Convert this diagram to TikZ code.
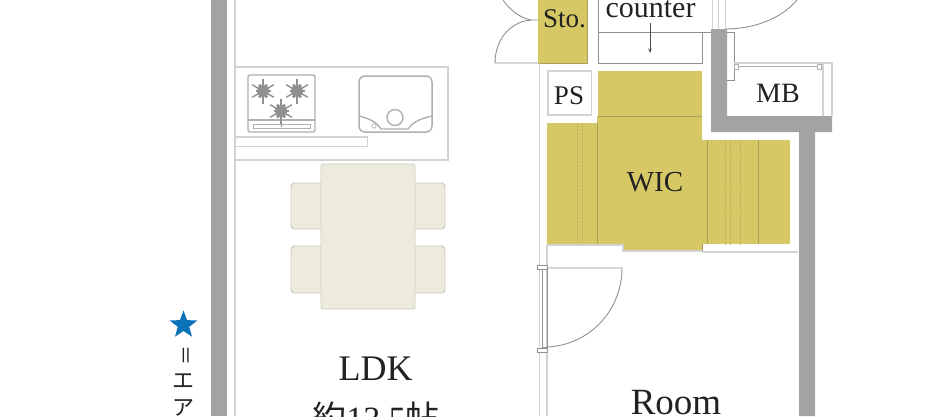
\documentclass[tikz,border=0pt]{standalone}
\usepackage{fontspec}
\setmainfont{Liberation Serif}
\newfontfamily\cjk{Noto Sans CJK JP}
\definecolor{wallg}{HTML}{A3A3A3}
\definecolor{thing}{HTML}{D2D2D2}
\definecolor{midg}{HTML}{909090}
\definecolor{ylw}{HTML}{D5C865}
\definecolor{ylwl}{HTML}{A99F5E}
\definecolor{tbl}{HTML}{EDEBDD}
\definecolor{tbll}{HTML}{CFCEC2}
\definecolor{fixt}{HTML}{B0B0B0}
\definecolor{txt}{HTML}{222222}
\definecolor{starb}{HTML}{0B72BA}
\usetikzlibrary{arrows.meta,shapes.geometric,calc}
\tikzset{
 wall/.style={fill=wallg,draw=none},
 thinw/.style={draw=thing,line width=1.5pt},
 doorl/.style={draw=midg,line width=0.9pt},
 ylwb/.style={fill=ylw,draw=none},
 ylwline/.style={draw=ylwl,line width=0.6pt},
 ylwdash/.style={draw=ylwl!50!ylw,line width=0.4pt,densely dotted},
 furn/.style={fill=tbl,draw=tbll,line width=0.8pt,rounded corners=2pt},
 fixture/.style={draw=fixt,line width=1.4pt},
 lab/.style={inner sep=0pt,text=txt,anchor=base},
}
\newcommand{\flake}[1]{%
 \foreach \a in {0,60,120}{\draw[draw=midg,line width=1.4pt] ($#1+(\a+90:12.5)$) -- ($#1+(\a+270:12.5)$);}
 \foreach \a in {30,90,150}{\draw[draw=midg,line width=2.6pt] ($#1+(\a+90:7.5)$) -- ($#1+(\a+270:7.5)$);}
 \fill[midg] #1 circle (6);
}
\begin{document}
\begin{tikzpicture}[x=1pt,y=-1pt]
\useasboundingbox (0,0) rectangle (936,416);
\clip (0,0) rectangle (936,416);
\fill[white] (0,0) rectangle (936,416);

% outer walls
\fill[wall] (211,0) rectangle (227,416);
\draw[thinw] (235,0) -- (235,416);
\draw[thinw] (234.5,67) -- (448,67) -- (448,160) -- (234.5,160);
\draw[thinw] (234.5,137) -- (367.5,137) -- (367.5,146.5) -- (234.5,146.5);

% hob
\draw[fixture,rounded corners=2pt] (248,75) rectangle (315,132);
\draw[fixture] (248,120) -- (315,120);
\draw[fixture,line width=0.7pt] (253,124) rectangle (310,128);
\flake{(263,91)}
\flake{(297,91)}
\flake{(281,111)}
\draw[draw=midg,line width=0.8pt] (281,111) -- (281,127);
% sink
\draw[fixture,line width=1.5pt,rounded corners=6pt] (359,76) rectangle (432,132);
\draw[fixture] (359,116) .. controls (372,119) and (378,124) .. (381,129) -- (408,129) .. controls (411,124) and (418,119) .. (432,116);
\draw[fixture] (395,117.5) circle (8);
\draw[fixture,line width=0.7pt] (374,126) circle (2.2);

% table and chairs
\draw[furn] (321,183) -- (293,183) -- (291,185) -- (291,227) -- (293,229) -- (321,229);
\draw[furn] (321,246) -- (293,246) -- (291,248) -- (291,291) -- (293,293) -- (321,293);
\draw[furn] (415,183) -- (443,183) -- (445,185) -- (445,227) -- (443,229) -- (415,229);
\draw[furn] (415,246) -- (443,246) -- (445,248) -- (445,291) -- (443,293) -- (415,293);
\draw[furn] (321,164) rectangle (415,309);

% star and vertical note
\node[star,star points=5,star point ratio=2.4,fill=starb,draw=none,inner sep=0pt,minimum size=29pt] (starmark) at (183.5,325) {};
\node[inner sep=0pt,rotate=-90,text=txt,font=\cjk\fontsize{20}{20}\selectfont] (noteeq) at (183.5,355.5) {＝};
\node[inner sep=0pt,text=txt,font=\cjk\fontsize{22}{22}\selectfont] (notee) at (183.5,381) {エ};
\node[inner sep=0pt,text=txt,font=\cjk\fontsize{22}{22}\selectfont] (notea) at (183.5,408) {ア};

% storage
\fill[ylwb] (538,0) rectangle (587,63);
\draw[ylwline] (587,0) -- (587,63) -- (538,63);
\draw[doorl] (538,20) -- (531,20) .. controls (508,22) and (495,42) .. (495,63) -- (538,63);
\draw[doorl] (531,20) .. controls (520,18) and (510,10) .. (503,0);
\draw[thinw] (539.5,63) -- (539.5,416);
\draw[thinw] (547,245) -- (547,416);

% counter
\draw[draw=midg,line width=0.8pt] (598,0) -- (598,63) -- (702,63) -- (702,32);
\draw[draw=midg,line width=0.8pt] (598,32) -- (711,32);
\draw[thinw,line width=0.8pt] (712,0) -- (712,29);
\draw[thinw,line width=0.8pt] (718,0) -- (718,29);
\draw[thinw,line width=0.8pt] (725,0) -- (725,29);
\draw[draw=txt!80,line width=0.5pt,-{Stealth[length=4.5pt,width=3.5pt]}] (650,23) -- (650,53);
\draw[doorl] (725,29) .. controls (755,29) and (782,18) .. (797,0);

% thick wall
\fill[wall] (711,29) -- (727,29) -- (727,116) -- (832,116) -- (832,132) -- (815,132) -- (815,416) -- (799,416) -- (799,132) -- (711,132) -- cycle;
\draw[draw=midg,line width=0.7pt] (727,32) -- (734,32) -- (734,80) -- (727,80);

% MB
\draw[thinw] (734,63) -- (832,63) -- (832,116);
\draw[thinw] (823,63) -- (823,116);
\draw[draw=fixt,line width=1pt] (736,66) -- (820,66);
\draw[draw=fixt,line width=0.6pt,fill=white] (734,64) rectangle (738,69);
\draw[draw=fixt,line width=0.6pt,fill=white] (817,64) rectangle (821,69);

% PS
\draw[thinw] (548,71) rectangle (591.5,115);

% WIC
\fill[ylwb] (598,71) rectangle (702,123);
\fill[ylwb] (547,123) rectangle (597,243.5);
\fill[ylwb] (597,116) -- (702,116) -- (702,140) -- (707,140) -- (707,244) -- (702,244) -- (702,250) -- (623,250) -- (623,244) -- (597,244) -- cycle;
\fill[ylwb] (707,140) rectangle (790,244);
\draw[ylwline] (598,116) -- (702,116);
\draw[ylwline] (597,123) -- (597,243.5);
\draw[ylwline] (707,140) -- (707,244);
\draw[ylwline] (758,140) -- (758,244);
\foreach \x in {577,582}{\draw[ylwdash] (\x,123) -- (\x,243);}
\foreach \x in {725,730,740}{\draw[ylwdash] (\x,140) -- (\x,244);}
\draw[thinw] (547,245) -- (623,245) -- (623,251) -- (702,251);
\draw[draw=ylwl,line width=1pt] (702,244) -- (702,252);
\draw[thinw] (702,252) -- (798,252);

% room door
\draw[draw=midg,line width=0.9pt] (542,268) rectangle (547,347);
\draw[doorl] (547,268) -- (622,268) .. controls (622,310) and (590,345) .. (547,347);
\draw[draw=midg,line width=0.6pt,fill=white] (537,265.5) rectangle (547,269);
\draw[draw=midg,line width=0.6pt,fill=white] (537,348) rectangle (547,352);

% labels
\node[lab,font=\fontsize{27}{27}\selectfont] (sto) at (564.5,27) {Sto.};
\node[lab,font=\fontsize{30}{30}\selectfont] (ctr) at (650.5,17) {counter};
\node[lab,font=\fontsize{27}{27}\selectfont] (ps) at (569,104) {PS};
\node[lab,font=\fontsize{28}{28}\selectfont] (mb) at (778,102) {MB};
\node[lab,font=\fontsize{29}{29}\selectfont] (wic) at (655,191) {WIC};
\node[lab,font=\fontsize{36}{36}\selectfont] (ldk) at (375.5,380) {LDK};
\node[lab,font=\fontsize{34}{34}\selectfont] (ldkj) at (376,430) {{\cjk 約}13.5{\cjk 帖}};
\node[lab,font=\fontsize{37}{37}\selectfont] (room) at (676,414) {Room};
\end{tikzpicture}
\end{document}
